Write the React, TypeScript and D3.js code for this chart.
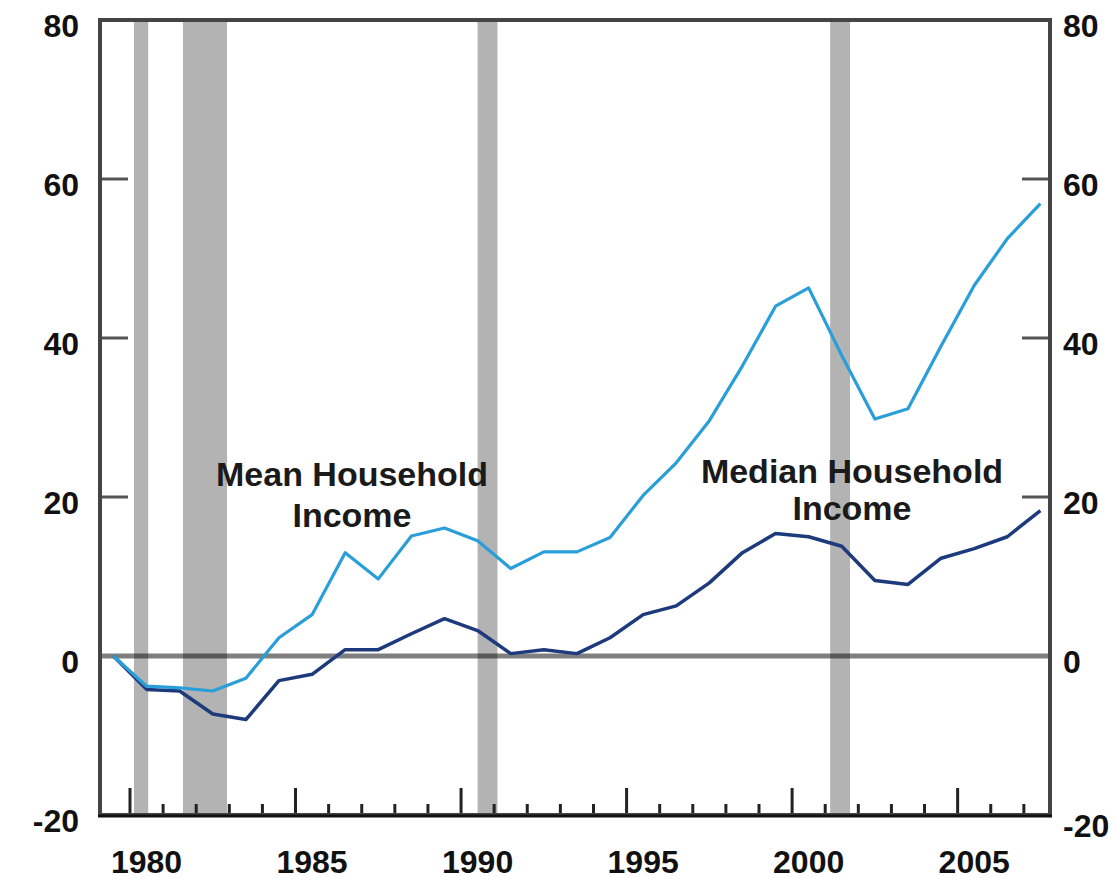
import React from "react";
import * as d3 from "d3";

const years = [1979, 1980, 1981, 1982, 1983, 1984, 1985, 1986, 1987, 1988, 1989, 1990, 1991, 1992, 1993, 1994, 1995, 1996, 1997, 1998, 1999, 2000, 2001, 2002, 2003, 2004, 2005, 2006, 2007];
const meanIncome = [0, -3.8, -4.0, -4.4, -2.8, 2.3, 5.2, 13.0, 9.7, 15.1, 16.1, 14.5, 11.0, 13.1, 13.1, 14.9, 20.2, 24.3, 29.6, 36.5, 44.0, 46.3, 37.8, 29.8, 31.1, 39.0, 46.6, 52.5, 56.9];
const medianIncome = [0, -4.2, -4.4, -7.3, -8.0, -3.1, -2.3, 0.8, 0.8, 2.8, 4.7, 3.2, 0.3, 0.8, 0.3, 2.3, 5.2, 6.3, 9.2, 13.0, 15.4, 15.0, 13.8, 9.5, 9.0, 12.3, 13.5, 15.0, 18.3];
const recessions: [number, number][] = [[1980.12, 1980.55], [1981.6, 1982.93], [1990.5, 1991.1], [2001.15, 2001.75]];
const yTicks = [80, 60, 40, 20, 0, -20];
const innerYTicks = [60, 40, 20];
const xLabels = [1980, 1985, 1990, 1995, 2000, 2005];
const tickYears = [1980, 1981, 1982, 1983, 1984, 1985, 1986, 1987, 1988, 1989, 1990, 1991, 1992, 1993, 1994, 1995, 1996, 1997, 1998, 1999, 2000, 2001, 2002, 2003, 2004, 2005, 2006, 2007];

const W = 1117;
const H = 879;
const L = 100, R = 1050, T = 20, B = 815;

export default function App() {
  const x = d3.scaleLinear().domain([1979.094, 2007.79]).range([L, R]);
  const y = d3.scaleLinear().domain([-20, 80]).range([B, T]);
  const line = d3
    .line<number>()
    .x((_, i) => x(years[i] + 0.5))
    .y((d) => y(d));
  const font = "'Liberation Sans', Arial, sans-serif";
  return (
    <div style={{ position: "absolute", left: 0, top: 0 }}>
      <svg width={W} height={H} style={{ display: "block" }} fontFamily={font} fontWeight="bold">
        <rect x={0} y={0} width={W} height={H} fill="#fff" />
        {recessions.map(([a, b], i) => (
          <rect key={i} x={x(a)} y={T} width={x(b) - x(a)} height={B - T} fill="#b3b3b3" />
        ))}
        <line x1={L} x2={R} y1={y(0)} y2={y(0)} stroke="#000" strokeOpacity={0.5} strokeWidth={5} />
        {innerYTicks.map((t) => (
          <g key={t}>
            <line x1={L} x2={L + 28} y1={y(t)} y2={y(t)} stroke="#555" strokeWidth={3} />
            <line x1={R - 28} x2={R} y1={y(t)} y2={y(t)} stroke="#555" strokeWidth={3} />
          </g>
        ))}
        {tickYears.map((yr) => (
          <line key={yr} x1={x(yr)} x2={x(yr)} y1={B} y2={B - (yr % 5 === 0 ? 27 : 11)} stroke="#222" strokeWidth={3} />
        ))}
        <path d={line(medianIncome) || ""} fill="none" stroke="#1c3a7c" strokeWidth={3.5} strokeLinejoin="round" />
        <path d={line(meanIncome) || ""} fill="none" stroke="#2a9ed8" strokeWidth={3.2} strokeLinejoin="round" />
        <rect x={L} y={T} width={R - L} height={B - T} fill="none" stroke="#444" strokeWidth={4} />
        <line x1={L - 2} x2={R + 2} y1={B + 1} y2={B + 1} stroke="#111" strokeWidth={3} />
        {yTicks.map((t) => (
          <g key={t} fontSize={32} fill="#111">
            <text x={L - 21} y={y(t) + 17} textAnchor="end">{t}</text>
            <text x={R + 13} y={y(t) + (t === -20 ? 22 : 17)} textAnchor="start">{t}</text>
          </g>
        ))}
        {xLabels.map((yr) => (
          <text key={yr} x={x(yr + 0.5)} y={873} textAnchor="middle" fontSize={32} fill="#111">{yr}</text>
        ))}
        <g fontSize={34} fill="#1a1a1a" textAnchor="middle">
          <text x={352} y={486}>Mean Household</text>
          <text x={352} y={527}>Income</text>
          <text x={852} y={483}>Median Household</text>
          <text x={852} y={520}>Income</text>
        </g>
      </svg>
    </div>
  );
}
